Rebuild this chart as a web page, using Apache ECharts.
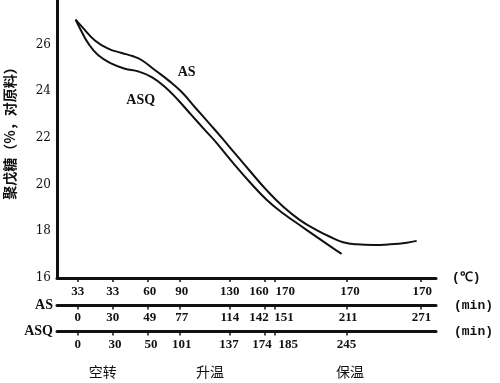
<!DOCTYPE html>
<html><head><meta charset="utf-8">
<script src="https://cdn.jsdelivr.net/npm/echarts@6/dist/echarts.min.js"></script>
<style>html,body{margin:0;padding:0;background:#fff}#c{width:500px;height:383px}</style>
</head><body><div id="c"></div>
<script>
// y ticks
const yTicks = [16, 18, 20, 22, 24, 26];
// process axis (abstract 0-100 scale along the bottom axes)
const tickPos = [5.5, 14.7, 23.9, 32.5, 45.6, 54.7, 57.5, 76.4, 96.0];
const asqTickPos = [5.5, 14.7, 23.9, 32.5, 45.6, 54.7, 57.5, 76.4];
const tempLabels = ['33', '33', '60', '90', '130', '160', '170', '170', '170'];
const tempLabelPos = [5.5, 14.7, 24.5, 32.9, 45.6, 53.3, 60.2, 77.3, 96.4];
const asMinutes = ['0', '30', '49', '77', '114', '142', '151', '211', '271'];
const asLabelPos = [5.5, 14.7, 24.5, 32.9, 45.6, 53.3, 59.9, 76.8, 96.2];
const asqMinutes = ['0', '30', '50', '101', '137', '174', '185', '245'];
const asqLabelPos = [5.5, 15.3, 24.8, 32.9, 45.4, 54.1, 61.0, 76.4];
const stages = ['空转', '升温', '保温'];
const stagePos = [12.1, 40.4, 77.3];
// curves: [process position, pentosan %]
const asCurve = [[4.9,27.06],[6.5,26.77],[10.0,26.17],[13.5,25.82],[17.1,25.63],[20.1,25.49],[22.4,25.32],[25.9,24.89],[29.4,24.46],[32.9,23.96],[36.4,23.31],[40.8,22.50],[43.5,22.00],[46.5,21.42],[50.9,20.58],[55.3,19.76],[59.7,19.05],[64.1,18.48],[68.5,18.05],[72.9,17.70],[75.5,17.53],[79.1,17.44],[83.5,17.41],[87.9,17.44],[92.3,17.51],[94.9,17.59]];
const asqCurve = [[4.9,27.06],[6.1,26.67],[8.3,26.03],[10.9,25.53],[14.4,25.18],[17.9,24.96],[21.5,24.84],[25.0,24.60],[28.5,24.18],[32.0,23.61],[35.5,22.97],[39.1,22.32],[41.7,21.86],[46.5,20.92],[50.9,20.10],[55.3,19.35],[59.7,18.76],[64.1,18.26],[68.5,17.76],[72.9,17.27],[75.1,17.03]];
const curveNames = ['AS', 'ASQ'];
const curveLabelAt = [[34.2, 24.8], [22.1, 23.6]];

const ink = '#111';
const numFont = {color: ink, fontFamily: 'Liberation Serif', fontWeight: 'bold', fontSize: 13};
const lookup = (pos, labels) => v => { const i = pos.indexOf(v); return i >= 0 ? labels[i] : ''; };

function bottomAxis(o) {
  return Object.assign({
    type: 'value', gridIndex: 0, position: 'bottom', min: 0, max: 100,
    splitLine: {show: false},
    axisLine: {show: true, onZero: false, lineStyle: {color: ink, width: 3}},
    axisTick: {show: false},
    axisLabel: {show: false}
  }, o);
}

const chart = echarts.init(document.getElementById('c'), null, {renderer: 'canvas'});
chart.setOption({
  animation: false,
  backgroundColor: '#fff',
  grid: {left: 57, right: 64, top: 0, bottom: 105, containLabel: false, outerBoundsMode: 'none'},
  xAxis: [
    bottomAxis({
      offset: 0,
      name: '(℃)', nameLocation: 'end', nameGap: 16,
      nameTextStyle: {color: ink, fontFamily: 'Liberation Mono', fontWeight: 'bold', fontSize: 13, align: 'left', verticalAlign: 'middle', padding: [22, 0, 0, 0]},
      axisTick: {show: true, customValues: tickPos, length: 4, lineStyle: {color: ink, width: 1.5}},
      axisLabel: Object.assign({show: true, customValues: tempLabelPos, margin: 7, formatter: lookup(tempLabelPos, tempLabels)}, numFont)
    }),
    bottomAxis({
      offset: 27.5,
      name: 'AS', nameLocation: 'start', nameGap: 4,
      nameTextStyle: {color: ink, fontFamily: 'Liberation Serif', fontWeight: 'bold', fontSize: 14, align: 'right', verticalAlign: 'middle'},
      axisTick: {show: true, customValues: tickPos, length: 4, lineStyle: {color: ink, width: 1.5}},
      axisLabel: Object.assign({show: true, customValues: asLabelPos, margin: 6, formatter: lookup(asLabelPos, asMinutes)}, numFont)
    }),
    bottomAxis({
      offset: 27.5,
      axisLine: {show: false, onZero: false},
      name: '(min)', nameLocation: 'end', nameGap: 18,
      nameTextStyle: {color: ink, fontFamily: 'Liberation Mono', fontWeight: 'bold', fontSize: 13, align: 'left', verticalAlign: 'middle', padding: [9, 0, 0, 0]}
    }),
    bottomAxis({
      offset: 53.5,
      name: 'ASQ', nameLocation: 'start', nameGap: 4,
      nameTextStyle: {color: ink, fontFamily: 'Liberation Serif', fontWeight: 'bold', fontSize: 14, align: 'right', verticalAlign: 'middle'},
      axisTick: {show: true, customValues: asqTickPos, length: 4, lineStyle: {color: ink, width: 1.5}},
      axisLabel: Object.assign({show: true, customValues: asqLabelPos, margin: 7, formatter: lookup(asqLabelPos, asqMinutes)}, numFont)
    }),
    bottomAxis({
      offset: 53.5,
      axisLine: {show: false, onZero: false},
      name: '(min)', nameLocation: 'end', nameGap: 18,
      nameTextStyle: {color: ink, fontFamily: 'Liberation Mono', fontWeight: 'bold', fontSize: 13, align: 'left', verticalAlign: 'middle', padding: [3, 0, 0, 0]}
    }),
    bottomAxis({
      offset: 80,
      axisLine: {show: false, onZero: false},
      axisLabel: {show: true, customValues: stagePos, margin: 7, formatter: lookup(stagePos, stages), color: ink, fontFamily: 'Noto Sans CJK SC', fontSize: 14}
    })
  ],
  yAxis: {
    type: 'value', min: 16, max: 27.9,
    name: '聚戊糖（%，对原料）', nameLocation: 'middle', nameRotate: 90, nameGap: 40,
    nameTextStyle: {color: ink, fontFamily: 'Noto Sans CJK SC', fontWeight: 'bold', fontSize: 14, padding: [0, 0, 0, 18]},
    axisLine: {show: true, lineStyle: {color: ink, width: 3}},
    axisTick: {show: false},
    splitLine: {show: false},
    axisLabel: {customValues: yTicks, margin: 6, color: ink, fontFamily: 'DejaVu Serif', fontSize: 12}
  },
  series: [asCurve, asqCurve].map((d, k) => ({
    type: 'line', name: curveNames[k], xAxisIndex: 0, data: d,
    smooth: 0.45, symbol: 'none', showSymbol: false,
    lineStyle: {color: ink, width: 2},
    markPoint: {
      symbol: 'circle', symbolSize: 0, silent: true,
      data: [{coord: curveLabelAt[k], value: curveNames[k]}],
      label: {show: true, position: 'inside', formatter: curveNames[k], color: ink, fontFamily: 'Liberation Serif', fontWeight: 'bold', fontSize: 14}
    }
  }))
});
</script></body></html>
